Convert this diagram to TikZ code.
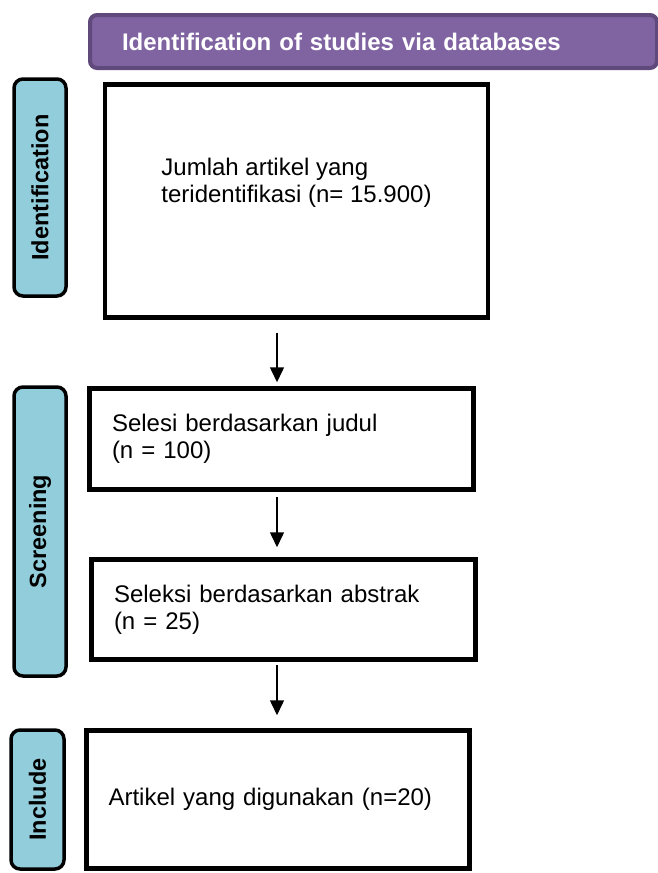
\documentclass[tikz,border=0pt]{standalone}
\usepackage{fontspec}
\setmainfont{Liberation Sans}
\usepackage{tikz}
\usetikzlibrary{arrows.meta}
\usetikzlibrary{shapes,positioning}
\definecolor{hdrfill}{RGB}{128,100,162}
\definecolor{hdrline}{RGB}{96,74,123}
\definecolor{sidefill}{RGB}{146,205,220}
\tikzset{stagebox/.style={draw, line width=4.5pt, minimum width=383pt,
    font=\fontsize{24}{27}\selectfont},
  sidebar/.style={draw, line width=3.5pt, fill=sidefill, rounded corners=9pt,
    rotate=90, inner sep=0pt, font=\fontsize{23.5}{26}\selectfont\bfseries},
  flow/.style={-{Triangle[width=14pt,length=15pt]}, line width=1.5pt}}

\begin{document}
\begin{tikzpicture}[x=1pt,y=-1pt]
    \useasboundingbox (0,0) rectangle (657,873);

    \node (head) [draw=hdrline, line width=4pt, fill=hdrfill, rounded corners=7pt,
      minimum height=53pt, text width=503pt, inner xsep=32pt, align=left, text=white,
      font=\fontsize{24}{27}\selectfont\bfseries] at (373.5,41.5) {Identification of studies via databases};

    \node (ident) [sidebar, minimum width=217pt, minimum height=52pt] at (40,187.5) {Identification};
    \node (screen) [sidebar, minimum width=289pt, minimum height=52pt] at (40,531.5) {Screening};
    \node (incl) [sidebar, minimum width=139pt, minimum height=53pt] at (37.5,799.5) {Include};

    \node (b1) [stagebox, minimum height=233pt, text depth=42pt, align=left] at (296.5,201) {Jumlah artikel yang\\teridentifikasi (n= 15.900)};
    \node (b2) [stagebox, minimum height=101pt, text width=339pt, inner xsep=22.5pt, align=left] at (281.5,439) {Selesi berdasarkan judul\\(n = 100)};
    \node (b3) [stagebox, minimum height=100pt, text width=339pt, inner xsep=22.5pt, align=left] at (283.5,609.5) {Seleksi berdasarkan abstrak\\(n = 25)};
    \node (b4) [stagebox, minimum height=138pt, text width=339pt, inner xsep=22pt, align=left] at (278,799.5) {Artikel yang digunakan (n=20)};

    \coordinate (ax) at (277,0);
    \draw[flow] ([yshift=-13pt]b1.south -| ax) -- ([yshift=4pt]b2.north -| ax);
    \draw[flow] ([yshift=-5pt]b2.south -| ax) -- ([yshift=10pt]b3.north -| ax);
    \draw[flow] ([yshift=-3pt]b3.south -| ax) -- ([yshift=13pt]b4.north -| ax);
  \end{tikzpicture}
\end{document}
